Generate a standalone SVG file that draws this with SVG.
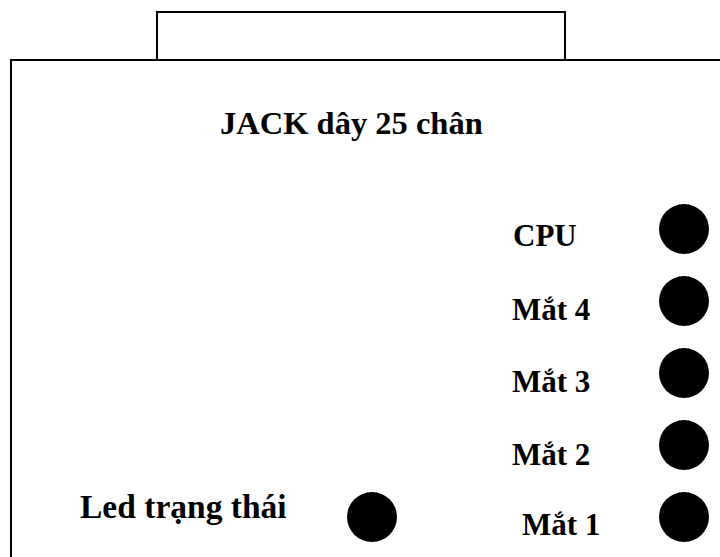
<svg xmlns="http://www.w3.org/2000/svg" width="720" height="557" viewBox="0 0 720 557">
<style>
.box{fill:none;stroke:#000;stroke-width:2}
.lbl{font-family:"Liberation Serif","Times New Roman",serif;font-weight:bold;font-size:31px;fill:#000}
.dot{fill:#000}
</style>
<rect width="720" height="557" fill="#fff"/>
<g id="connector-housing">
<rect class="box" x="157" y="12" width="408" height="48"/>
</g>
<g id="panel">
<rect class="box" x="11" y="60" width="720" height="510"/>
<text class="lbl" x="220" y="134" style="font-size:32.5px">JACK dây 25 chân</text>
</g>
<g id="connectors"></g>
<g id="cpu"><text class="lbl" x="513" y="246">CPU</text><circle class="dot" cx="684" cy="229" r="25"/></g>
<g id="mat4"><text class="lbl" x="512" y="320">Mắt 4</text><circle class="dot" cx="684" cy="301" r="25"/></g>
<g id="mat3"><text class="lbl" x="512" y="392">Mắt 3</text><circle class="dot" cx="684" cy="373" r="25"/></g>
<g id="mat2"><text class="lbl" x="512" y="465">Mắt 2</text><circle class="dot" cx="684" cy="445" r="25"/></g>
<g id="mat1"><text class="lbl" x="522" y="535">Mắt 1</text><circle class="dot" cx="684" cy="517" r="25"/></g>
<g id="led"><text class="lbl" x="80" y="518" style="font-size:33.5px">Led trạng thái</text><circle class="dot" cx="372" cy="517" r="25"/></g>
</svg>
